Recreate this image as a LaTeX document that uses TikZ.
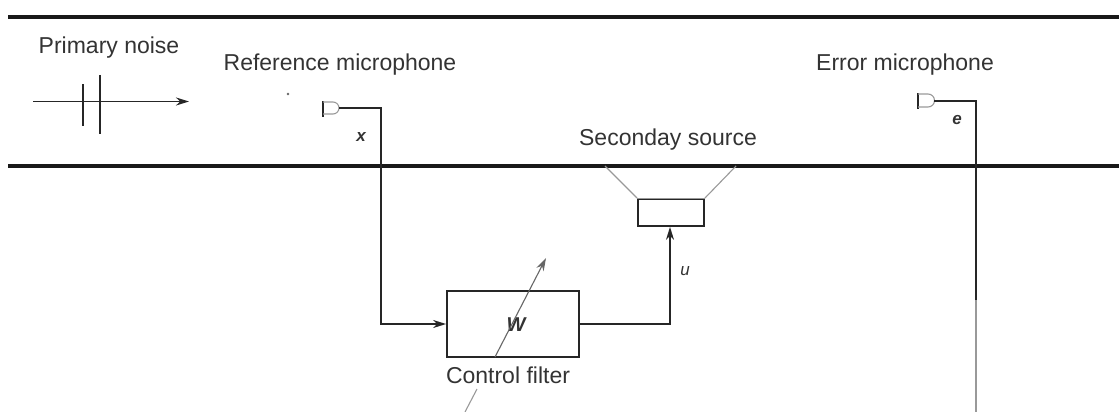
\documentclass[tikz,border=0pt]{standalone}
\usepackage{fontspec}
\setmainfont{Liberation Sans}
\usepackage{tikz}
\usetikzlibrary{arrows.meta}

\tikzset{
  duct/.style={line width=3.6pt, black!90},
  wire/.style={line width=1.8pt, black!85},
  faint/.style={line width=1.1pt, black!40},
  tag/.style={font=\fontsize{23}{26}\selectfont, text=black!80, inner sep=0pt},
  sig/.style={font=\fontsize{17}{20}\selectfont\bfseries\itshape, text=black!80, inner sep=0pt},
  block/.style={draw=black!85, line width=1.8pt, fill=white, inner sep=0pt},
  tip/.style={-{Stealth[length=13pt,width=8pt]}}
}

\begin{document}
\begin{tikzpicture}[x=1pt, y=-1pt]
\useasboundingbox (0,0) rectangle (1119,412);

\coordinate (ductAL) at (8,17);
\coordinate (ductAR) at (1119,17);
\coordinate (ductBL) at (8,166);
\coordinate (ductBR) at (1119,166);
\draw[duct] (ductAL) -- (ductAR);
\draw[duct] (ductBL) -- (ductBR);

\node[tag] (noise) at (109,48) {Primary noise};
\node[tag] (refname) at (340,65) {Reference microphone};
\node[tag] (errname) at (905,65) {Error microphone};
\node[tag] (secname) at (668,140) {Seconday source};
\node[tag] (filtname) at (508,375) {Control filter};

\coordinate (waveA) at (33,101.5);
\coordinate (waveB) at (189,101.5);
\draw[wire, tip] (waveA) -- (waveB);
\draw[wire] (83,84) -- (83,126);
\draw[wire] (100,75) -- (100,134);
\fill[black!60] (288,94) circle (1.3);

\node[block, minimum width=132pt, minimum height=66pt] (filter) at (513,324) {};
\node[sig, font=\fontsize{20}{23}\selectfont\bfseries\itshape] (w) at (516,325) {W};
\node[block, minimum width=66pt, minimum height=27pt] (speaker) at (671,212.5) {};

\coordinate (hornL) at (605,166);
\coordinate (hornR) at (736,166);
\draw[faint] (hornL) -- (speaker.north west);
\draw[faint] (hornR) -- (speaker.north east);
\draw[faint] (speaker.north west) -- (speaker.north east);

\draw[wire] (323,101) -- (323,117);
\draw[faint] (323,102) -- (333,102) arc (-90:90:6) -- (323,114);
\draw[wire] (918,93) -- (918,109);
\draw[faint] (918,94) -- (928,94) arc (-90:90:6.5) -- (918,107);

\coordinate (refout) at (339,108);
\coordinate (refbend) at (381,108);
\coordinate (errout) at (934,101);
\coordinate (errbend) at (976,101);
\coordinate (errmid) at (976,300);
\coordinate (errend) at (976,412);
\coordinate (outbend) at (670,324);
\coordinate (adjfoot) at (465,412);
\coordinate (adjgap) at (477,389);
\coordinate (adjbox) at (495,357);
\coordinate (adjtip) at (546,258);

\draw[wire, tip] (refout) -- (refbend) -- (refbend |- filter.west) -- (filter.west);
\draw[wire, tip] (filter.east) -- (outbend) -- (outbend |- speaker.south);
\draw[wire] (errout) -- (errbend) -- (errmid);
\draw[faint] (errmid) -- (errend);
\draw[faint] (adjfoot) -- (adjgap);
\draw[faint, black!60, tip] (adjbox) -- (adjtip);

\node[sig] (x) at (361,137) {x};
\node[sig] (e) at (957,120) {e};
\node[sig, font=\fontsize{17}{20}\selectfont\itshape] (u) at (685,271) {u};
\end{tikzpicture}
\end{document}
